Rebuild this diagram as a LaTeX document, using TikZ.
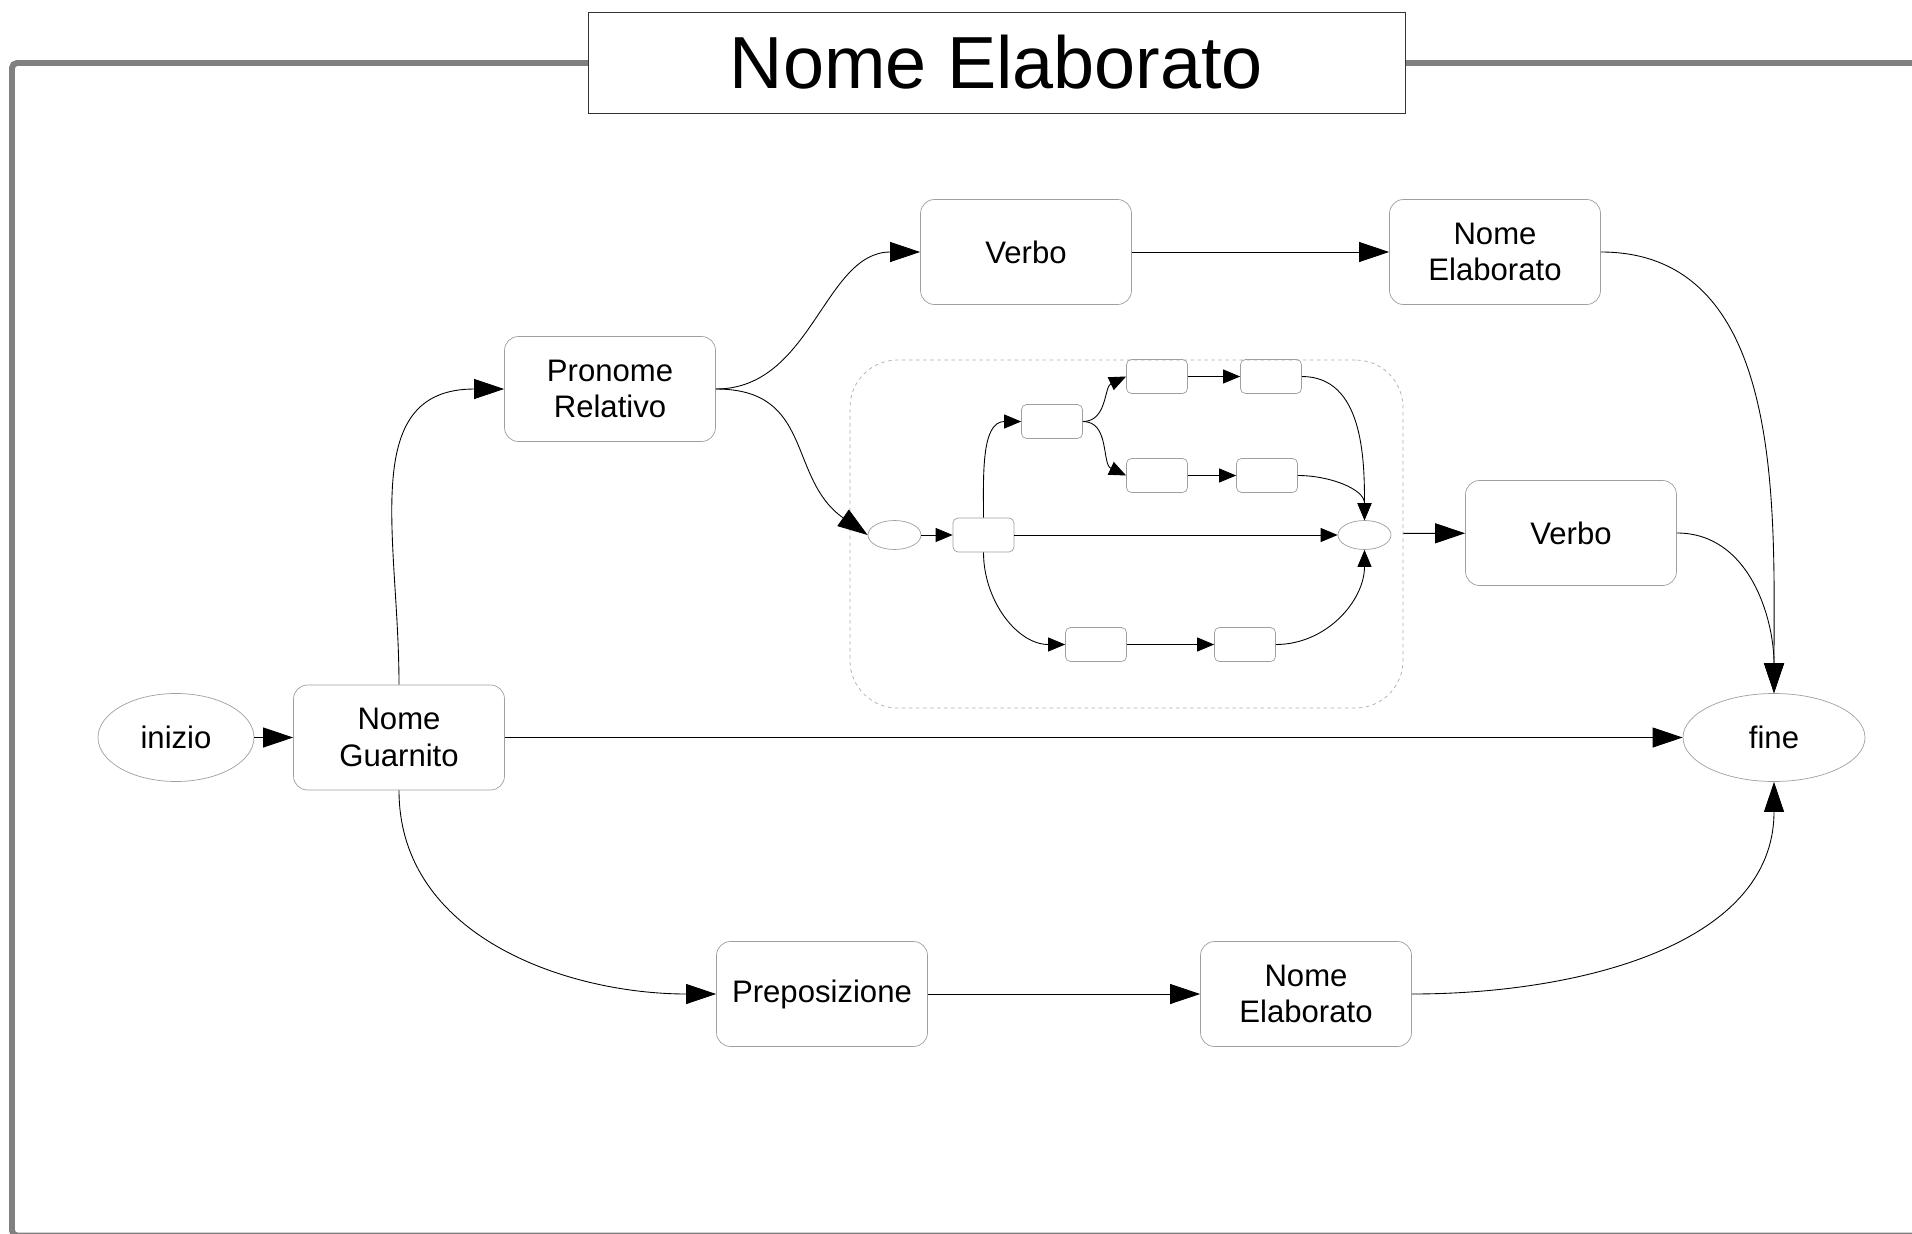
\documentclass[tikz,border=0pt]{standalone}
\usepackage{fontspec}
\setmainfont{Liberation Sans}
\usepackage{tikz}
\usetikzlibrary{arrows.meta}
\usetikzlibrary{positioning,shapes}
\usetikzlibrary{shapes.geometric}

\tikzset{
  testo/.style={font=\fontsize{17.7}{20.6}\selectfont},
  blocco/.style={draw=gray!75, rounded corners=0.28cm, minimum width=4.22cm, minimum height=2.1cm, align=center, inner sep=0pt, testo},
  stato/.style={draw=gray!75, ellipse, minimum height=1.76cm, inner sep=0pt, testo},
  blocchetto/.style={draw=gray!75, rounded corners=0.1cm, minimum width=1.22cm, minimum height=0.68cm, inner sep=0pt},
  statino/.style={draw=gray!75, ellipse, minimum width=1.06cm, minimum height=0.58cm, inner sep=0pt},
  gruppo/.style={draw=gray!65, dash pattern=on 2pt off 2pt, rounded corners=0.95cm, minimum width=11.06cm, minimum height=6.96cm, inner sep=0pt},
  titolo/.style={draw=gray!40!black, fill=white, minimum width=16.34cm, minimum height=2.02cm, inner sep=0pt, font=\fontsize{42}{50}\selectfont},
  cornice/.style={draw=gray, line width=3.4pt, rounded corners=0.1cm},
  freccia/.style={-{Triangle[length=0.6cm,width=0.4cm]}, line width=0.5pt},
  frecciaina/.style={-{Triangle[length=0.34cm,width=0.28cm]}, line width=0.5pt},
}

\begin{document}
\begin{tikzpicture}
            \useasboundingbox (0,0) rectangle (38.24,-24.68);
            \draw[cornice] (38.8,-1.26) -| (0.24,-24.71) -- (38.8,-24.71);
            \node[titolo] (titolo) at (19.93,-1.25) {Nome Elaborato};

            \node[stato, minimum width=3.12cm] (inizio) at (3.52,-14.75) {inizio};
            \node[blocco, right of=inizio, node distance=4.46cm] (guarnito) {Nome\\Guarnito};
            \node[blocco, right of=guarnito, node distance=4.22cm, yshift=6.97cm] (pronome) {Pronome\\Relativo};
            \node[blocco, right of=pronome, node distance=8.32cm, yshift=2.74cm] (verboA) {Verbo};
            \node[blocco, right of=verboA, node distance=9.38cm] (elabA) {Nome\\Elaborato};
            \node[stato, minimum width=3.64cm, right of=guarnito, node distance=27.5cm] (fine) {fine};
            \node[blocco, left of=fine, node distance=4.06cm, yshift=4.09cm] (verboB) {Verbo};
            \node[blocco, right of=guarnito, node distance=8.46cm, yshift=-5.13cm] (prep) {Preposizione};
            \node[blocco, right of=prep, node distance=9.68cm] (elabB) {Nome\\Elaborato};

            % sottografo tratteggiato
            \node[gruppo] (gruppo) at (22.53,-10.68) {};
            \node[statino] (ini2) at (17.89,-10.7) {};
            \node[blocchetto, right of=ini2, node distance=1.78cm] (a) {};
            \node[blocchetto, right of=a, node distance=1.37cm, yshift=2.27cm] (b) {};
            \node[blocchetto, right of=b, node distance=2.1cm, yshift=0.9cm] (c) {};
            \node[blocchetto, right of=c, node distance=2.28cm] (d) {};
            \node[blocchetto, right of=b, node distance=2.1cm, yshift=-1.08cm] (e) {};
            \node[blocchetto, right of=e, node distance=2.2cm] (f) {};
            \node[blocchetto, right of=a, node distance=2.25cm, yshift=-2.19cm] (g) {};
            \node[blocchetto, right of=g, node distance=2.98cm] (h) {};
            \node[statino, right of=a, node distance=7.62cm] (fin2) {};

    	    \path[freccia] (inizio) edge (guarnito);
    	    \path[freccia] (guarnito) edge (fine);
    	    \path[freccia] (guarnito.north) edge[out=90, in=180, looseness=1.2] (pronome.west);
    	    \path[freccia] (pronome.east) edge[out=0, in=180] (verboA.west);
    	    \path[freccia] (pronome.east) edge[out=0, in=145, looseness=1.2] (ini2.west);
    	    \path[freccia] (verboA) edge (elabA);
    	    \path[freccia] (elabA.east) edge[out=0, in=90] (fine.north);
    	    \path[freccia] (gruppo) edge (verboB);
    	    \path[freccia] (verboB.east) edge[out=0, in=90] (fine.north);
    	    \path[freccia] (guarnito.south) edge[out=-90, in=180] (prep.west);
    	    \path[freccia] (prep) edge (elabB);
    	    \path[freccia] (elabB.east) edge[out=0, in=-90] (fine.south);

    	    \path[frecciaina] (ini2) edge (a);
    	    \path[frecciaina] (a) edge (fin2);
    	    \path[frecciaina] (a.north) edge[out=90, in=180] (b.west);
    	    \path[frecciaina] (b.east) edge[out=0, in=205] (c.west);
    	    \path[frecciaina] (b.east) edge[out=0, in=155] (e.west);
    	    \path[frecciaina] (c) edge (d);
    	    \path[frecciaina] (e) edge (f);
    	    \path[frecciaina] (d.east) edge[out=0, in=90] (fin2.north);
    	    \path[frecciaina] (f.east) edge[out=0, in=90] (fin2.north);
    	    \path[frecciaina] (a.south) edge[out=-90, in=180] (g.west);
    	    \path[frecciaina] (g) edge (h);
    	    \path[frecciaina] (h.east) edge[out=0, in=-90] (fin2.south);
	    \end{tikzpicture}
\end{document}
